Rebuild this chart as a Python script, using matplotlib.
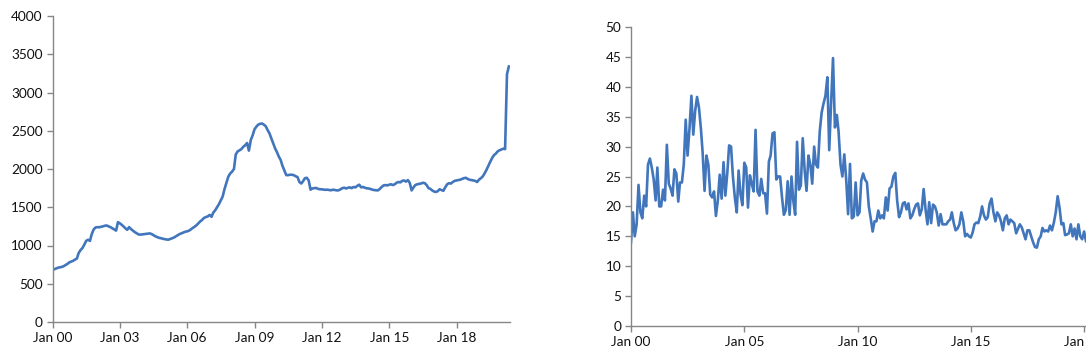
import matplotlib
matplotlib.use("Agg")
import matplotlib.pyplot as plt
import matplotlib.dates as mdates
import pandas as pd

# ---- Left chart: monthly values, Jan 2000 - May 2020 ----
left_2000 = [680, 690, 700, 710, 715, 720, 730, 745, 760, 780, 790, 800]
left_2001 = [815, 830, 900, 940, 965, 1010, 1060, 1075, 1060, 1150, 1210, 1235]
left_2002 = [1240, 1238, 1245, 1250, 1258, 1262, 1250, 1240, 1225, 1210, 1195, 1305]
left_2003 = [1290, 1270, 1250, 1225, 1205, 1240, 1215, 1195, 1175, 1160, 1145, 1142]
left_2004 = [1145, 1148, 1150, 1155, 1158, 1150, 1135, 1120, 1110, 1100, 1095, 1088]
left_2005 = [1083, 1078, 1076, 1085, 1095, 1105, 1120, 1135, 1150, 1160, 1170, 1180]
left_2006 = [1185, 1195, 1210, 1230, 1245, 1265, 1290, 1315, 1335, 1360, 1372, 1380]
left_2007 = [1400, 1375, 1430, 1460, 1500, 1540, 1590, 1640, 1740, 1820, 1900, 1940]
left_2008 = [1965, 2000, 2190, 2230, 2245, 2260, 2290, 2310, 2340, 2240, 2380, 2440]
left_2009 = [2520, 2555, 2580, 2590, 2595, 2580, 2560, 2510, 2465, 2400, 2330, 2270]
left_2010 = [2220, 2160, 2120, 2040, 1980, 1920, 1920, 1925, 1925, 1920, 1905, 1895]
left_2011 = [1830, 1810, 1840, 1880, 1885, 1850, 1730, 1745, 1750, 1752, 1740, 1735]
left_2012 = [1735, 1730, 1728, 1730, 1725, 1722, 1730, 1725, 1720, 1722, 1735, 1750]
left_2013 = [1755, 1745, 1755, 1760, 1750, 1765, 1760, 1780, 1795, 1760, 1765, 1755]
left_2014 = [1748, 1745, 1740, 1730, 1725, 1722, 1720, 1740, 1765, 1785, 1790, 1785]
left_2015 = [1795, 1800, 1790, 1800, 1820, 1830, 1825, 1845, 1850, 1835, 1855, 1820]
left_2016 = [1720, 1760, 1790, 1800, 1805, 1810, 1820, 1815, 1790, 1750, 1740, 1720]
left_2017 = [1705, 1700, 1710, 1735, 1725, 1715, 1760, 1800, 1815, 1810, 1830, 1845]
left_2018 = [1850, 1855, 1860, 1870, 1880, 1885, 1870, 1860, 1855, 1850, 1845, 1830]
left_2019 = [1860, 1880, 1900, 1940, 1985, 2040, 2090, 2140, 2180, 2200, 2230, 2245]
left_2020 = [2255, 2265, 2260, 3240, 3340]

left_values = (left_2000 + left_2001 + left_2002 + left_2003 + left_2004 + left_2005 +
               left_2006 + left_2007 + left_2008 + left_2009 + left_2010 + left_2011 +
               left_2012 + left_2013 + left_2014 + left_2015 + left_2016 + left_2017 +
               left_2018 + left_2019 + left_2020)
left_dates = pd.date_range("2000-01-01", periods=len(left_values), freq="MS")

# ---- Right chart: monthly values from Jan 2000 ----
right_values = [
    14, 19, 15, 17, 23.6, 19, 18, 21.8, 20, 27, 28, 26.5,
    24.5, 21, 26.5, 20, 20, 22.8, 21, 30.3, 23.8, 23, 21.8, 26.2,
    25.5, 20.8, 24, 24, 27, 34.5, 28.5, 33, 38.5, 32, 36, 38.3,
    36.5, 33, 29, 22.6, 28.5, 27, 22, 21.5, 22.5, 18.4, 21, 25.3,
    21.3, 27.4, 21.8, 25.5, 30.2, 30, 25, 21.5, 19, 26, 22, 20.2,
    27.3, 26.5, 19.8, 25.2, 23.8, 22.5, 32.8, 22.5, 21.8, 24.6, 22.2, 22.2,
    18.8, 27.5, 28.5, 32.2, 32.4, 24.5, 25, 25, 21.5, 18.6, 19.4, 24.2,
    18.6, 25, 21, 18.6, 30.8, 22.8, 23.5, 31.4, 26, 22.6, 28.5, 27,
    23.8, 30, 27, 26.5, 32.5, 35.7, 37.2, 38.5, 41.6, 29.4, 37.5, 44.8,
    33.2, 35.3, 32.5, 27, 25, 28.7, 24.6, 18.7, 27.1, 18, 18.3, 24,
    18.5, 19, 24.3, 25.5, 24.5, 24, 20, 18, 15.8, 17.5, 17.5, 19.3,
    18, 18.5, 18, 21.5, 19.3, 23, 23.3, 25, 25.6, 21, 18.2, 19,
    20.5, 20.7, 19.5, 20.5, 18, 18.5, 19.5, 20.3, 20.5, 18.5, 19.5, 22.9,
    19.5, 17, 20.7, 17.2, 20.3, 20, 19, 16.8, 18.7, 17, 17, 17,
    17.5, 17.8, 19, 17.2, 16, 16.3, 17, 19, 17.5, 15, 15.4, 15,
    14.8, 15.7, 17, 17.3, 17.2, 18.3, 20, 18.5, 17.8, 18.2, 20.5, 21.3,
    19, 17.5, 19, 18.5, 17.5, 16, 18, 18.5, 17, 17.8, 17.5, 17.2,
    15.5, 16.3, 17, 16.5, 15.5, 14.5, 16, 16, 15, 14, 13.2, 13.1,
    14.5, 15, 16.4, 15.8, 16, 15.8, 16.8, 16, 17.3, 19, 21.7, 19.8,
    17, 17.2, 15.2, 15.3, 15.5, 17, 15, 16.3, 14.5, 17, 15, 14.5,
    15.8, 14.2,
]
right_dates = pd.date_range("2000-01-01", periods=len(right_values), freq="MS")

left_tick_years = [2000, 2003, 2006, 2009, 2012, 2015, 2018]
right_tick_years = [2000, 2005, 2010, 2015, 2020]
left_yticks = [0, 500, 1000, 1500, 2000, 2500, 3000, 3500, 4000]
right_yticks = [0, 5, 10, 15, 20, 25, 30, 35, 40, 45, 50]

LINE = "#4276BC"
AXC = "#868686"
plt.rcParams["font.family"] = ["Lato", "DejaVu Sans"]

fig = plt.figure(figsize=(10.86, 3.6), dpi=100)
axL = fig.add_axes([52.5 / 1086, 38 / 360, (510 - 52.5) / 1086, 306 / 360])
axR = fig.add_axes([631 / 1086, 34 / 360, (1086 - 631) / 1086, 299 / 360])


def style(ax):
    for s in ["top", "right"]:
        ax.spines[s].set_visible(False)
    for s in ["left", "bottom"]:
        ax.spines[s].set_color(AXC)
        ax.spines[s].set_linewidth(1.0)
    ax.tick_params(axis="both", direction="out", length=4, width=1, color=AXC,
                   labelsize=9.8, labelcolor="#111111", pad=3)
    ax.xaxis.set_major_formatter(mdates.DateFormatter("%b %y"))


axL.plot(left_dates, left_values, color=LINE, lw=1.9, solid_joinstyle="round")
axL.set_ylim(0, 4000)
axL.set_yticks(left_yticks)
axL.set_xlim(pd.Timestamp("2000-01-01"), pd.Timestamp("2020-05-20"))
axL.set_xticks([pd.Timestamp(f"{y}-01-01") for y in left_tick_years])
style(axL)

axR.plot(right_dates, right_values, color=LINE, lw=1.9, solid_joinstyle="round")
axR.set_ylim(0, 50)
axR.set_yticks(right_yticks)
axR.set_xlim(pd.Timestamp("2000-01-01"), pd.Timestamp("2020-02-01"))
axR.set_xticks([pd.Timestamp(f"{y}-01-01") for y in right_tick_years])
style(axR)

fig.savefig("out.png", dpi=100)
